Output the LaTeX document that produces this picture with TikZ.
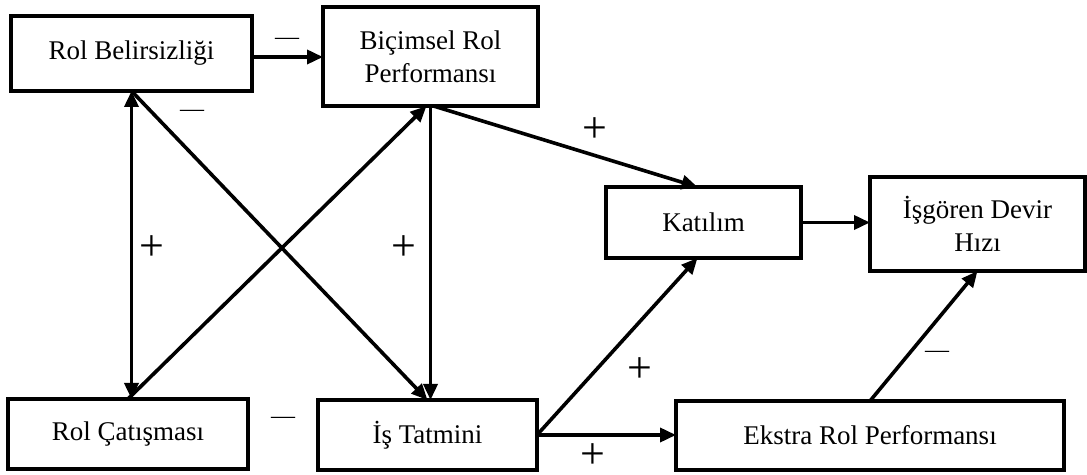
\documentclass[tikz,border=0pt]{standalone}
\usepackage{fontspec}
\setmainfont{Liberation Serif}
\usetikzlibrary{arrows.meta,calc}
\begin{document}
\begin{tikzpicture}[x=0.5pt,y=-0.5pt,
  box/.style={draw, line width=2pt, inner sep=0pt, outer sep=0pt, align=center,
    font=\fontsize{13.5}{16.5}\selectfont},
  arr/.style={line width=1.8pt, -{Triangle[length=8pt,width=7pt]}},
  darr/.style={line width=1.8pt, {Triangle[length=8pt,width=7pt]}-{Triangle[length=8pt,width=7pt]}},
  plus/.style={font=\fontsize{22}{22}\selectfont, inner sep=0pt},
  minus/.style={font=\fontsize{12}{12}\selectfont, inner sep=0pt}]
\useasboundingbox (0,0) rectangle (1087,475);

% boxes
\node[box, minimum width=120.5pt, minimum height=37.5pt] (RB) at (131.5,53.5) {Rol Belirsizliği};
\node[box, minimum width=107.5pt, minimum height=49.5pt] (BR) at (430.5,56.5) {Biçimsel Rol\\Performansı};
\node[box, minimum width=97.5pt, minimum height=35.5pt] (KT) at (703.5,222.5) {Katılım};
\node[box, minimum width=107.5pt, minimum height=47pt] (ID) at (977.5,224) {İşgören Devir\\Hızı};
\node[box, minimum width=120pt, minimum height=35pt] (RC) at (128,434) {Rol Çatışması};
\node[box, minimum width=109.5pt, minimum height=35pt] (IT) at (427.5,435) {İş Tatmini};
\node[box, minimum width=194pt, minimum height=34.5pt] (EK) at (870,435.5) {Ekstra Rol Performansı};

% connectors
\draw[arr] ([yshift=-1.75pt]RB.east) -- ([yshift=-1.75pt]RB.east -| BR.west);
\draw[darr] (RB.south) -- (RB.south |- RC.north);
\draw[arr] (RB.south) -- (IT.north);
\draw[arr] (RC.north) -- ([xshift=-2pt]BR.south);
\draw[arr] (BR.south) -- (BR.south |- IT.north);
\draw[arr] ([xshift=1.5pt]BR.south) -- ([xshift=-3pt]KT.north);
\draw[arr] (KT.east) -- (KT.east -| ID.west);
\draw[arr] (IT.east) -- ([xshift=-3pt]KT.south);
\draw[arr] (IT.east) -- (IT.east -| EK.west);
\draw[arr] (EK.north) -- (ID.south);

% labels
\node[minus] (m1) at (287,41) {—};
\node[minus] (m2) at (192,113) {—};
\node[minus] (m3) at (283,420) {—};
\node[minus] (m4) at (937,354) {—};
\node[plus] (p1) at (152,248) {+};
\node[plus] (p2) at (404,248) {+};
\node[plus] (p3) at (595,130) {+};
\node[plus] (p4) at (640,370) {+};
\node[plus] (p5) at (593,456) {+};
\end{tikzpicture}
\end{document}
